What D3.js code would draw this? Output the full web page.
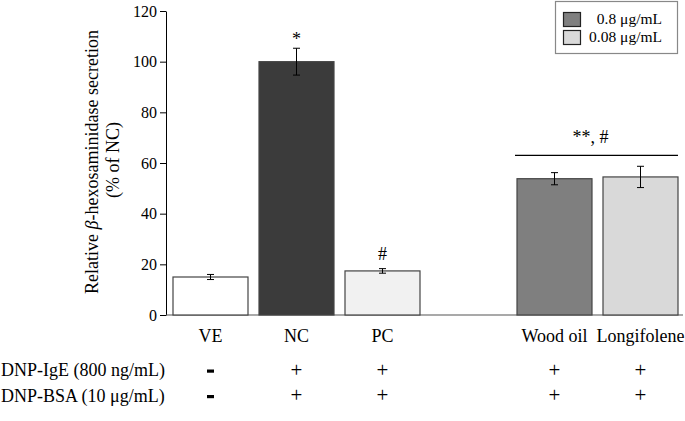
<!DOCTYPE html>
<html>
<head>
<meta charset="utf-8">
<script src="https://cdn.jsdelivr.net/npm/d3@7"></script>
<style>
  body { margin: 0; background: #fff; }
  text { font-family: "Liberation Serif", "Times New Roman", serif; fill: #000; }
</style>
</head>
<body>
<div id="chart"></div>
<script>
// slots on the x axis, "gap" is the empty space before the test samples
const slots = ["VE", "NC", "PC", "gap", "Wood oil", "Longifolene"];
const groups = ["VE", "NC", "PC", "Wood oil", "Longifolene"];
const values = [15, 100, 17.4, 53.8, 54.5];
const errors = [1.0, 5.3, 0.9, 2.4, 4.2];
const marks = ["", "*", "#", "", ""];
const dnpIgE = ["-", "+", "+", "+", "+"];
const dnpBSA = ["-", "+", "+", "+", "+"];
const yTicks = [0, 20, 40, 60, 80, 100, 120];
const legendLabels = ["0.8 \u03bcg/mL", "0.08 \u03bcg/mL"];
const fills = ["#ffffff", "#3b3b3b", "#f1f1f1", "#7f7f7f", "#d9d9d9"];
const groupMark = { label: "**, #", from: "Wood oil", to: "Longifolene", level: 63 };

const width = 685, height = 421;

let svg = d3.select("#chart").append("svg")
  .attr("width", width)
  .attr("height", height);

let x = d3.scaleBand()
  .domain(slots)
  .range([167.5, 683.5])
  .paddingInner(0.128)
  .paddingOuter(0.064);

let y = d3.scaleLinear()
  .domain([0, 120])
  .range([315, 11]);

//y axis
let yAxis = svg.append("g")
  .attr("transform", "translate(166,0)")
  .call(d3.axisLeft(y).tickValues(yTicks).tickSize(6).tickPadding(3).tickSizeOuter(0));
yAxis.selectAll("text").style("font-size", "16px").style("font-family", "Liberation Serif");
yAxis.selectAll("line, path").attr("stroke", "#000");

//x axis line
svg.append("line")
  .attr("x1", 166).attr("x2", 683)
  .attr("y1", y(0)).attr("y2", y(0))
  .attr("stroke", "#555").attr("stroke-width", 1.2);

//bars
svg.append("g")
  .selectAll("rect")
  .data(groups)
  .enter().append("rect")
  .attr("x", d => x(d))
  .attr("y", (d, i) => y(values[i]))
  .attr("width", x.bandwidth())
  .attr("height", (d, i) => y(0) - y(values[i]))
  .attr("fill", (d, i) => fills[i])
  .attr("stroke", "#444")
  .attr("stroke-width", 1.2);

//error bars
let eb = svg.append("g").attr("stroke", "#000").attr("stroke-width", 1);
groups.forEach((g, i) => {
  let cx = x(g) + x.bandwidth() / 2;
  let top = y(values[i] + errors[i]), bot = y(values[i] - errors[i]);
  eb.append("line").attr("x1", cx).attr("x2", cx).attr("y1", top).attr("y2", bot);
  eb.append("line").attr("x1", cx - 3.5).attr("x2", cx + 3.5).attr("y1", top).attr("y2", top);
  eb.append("line").attr("x1", cx - 3.5).attr("x2", cx + 3.5).attr("y1", bot).attr("y2", bot);
});

//significance marks above single bars
svg.append("g")
  .selectAll("text")
  .data(groups)
  .enter().append("text")
  .attr("x", d => x(d) + x.bandwidth() / 2)
  .attr("y", (d, i) => y(values[i] + errors[i]) - (marks[i] === "*" ? 3 : 9))
  .attr("text-anchor", "middle")
  .style("font-size", "18px")
  .text((d, i) => marks[i]);

//group significance line
let gx1 = x(groupMark.from) - 2, gx2 = x(groupMark.to) + x.bandwidth();
svg.append("line")
  .attr("x1", gx1).attr("x2", gx2)
  .attr("y1", y(groupMark.level)).attr("y2", y(groupMark.level))
  .attr("stroke", "#000").attr("stroke-width", 1.3);
svg.append("text")
  .attr("x", (gx1 + gx2) / 2 - 6)
  .attr("y", y(groupMark.level) - 12)
  .attr("text-anchor", "middle")
  .style("font-size", "18px")
  .text(groupMark.label);

//category labels
svg.append("g")
  .selectAll("text")
  .data(groups)
  .enter().append("text")
  .attr("x", d => x(d) + x.bandwidth() / 2)
  .attr("y", 342)
  .attr("text-anchor", "middle")
  .style("font-size", "18px")
  .text(d => d);

//treatment rows
let rows = [
  { label: "DNP-IgE (800 ng/mL)", signs: dnpIgE, y: 376 },
  { label: "DNP-BSA (10 \u03bcg/mL)", signs: dnpBSA, y: 401.5 }
];
rows.forEach(r => {
  svg.append("text")
    .attr("x", 1).attr("y", r.y)
    .style("font-size", "18px")
    .text(r.label);
  groups.forEach((g, i) => {
    let cx = x(g) + x.bandwidth() / 2;
    if (r.signs[i] === "-") {
      svg.append("rect")
        .attr("x", cx - 3.5).attr("y", r.y - 6.5)
        .attr("width", 7).attr("height", 3.2)
        .attr("fill", "#000");
    } else {
      svg.append("text")
        .attr("x", cx).attr("y", r.y + 0.5)
        .attr("text-anchor", "middle")
        .style("font-size", "21px")
        .text(r.signs[i]);
    }
  });
});

//y axis title
let title = svg.append("text")
  .attr("transform", "translate(98,162) rotate(-90)")
  .attr("text-anchor", "middle")
  .style("font-size", "18px");
title.append("tspan").text("Relative ");
title.append("tspan").style("font-style", "italic").text("\u03b2");
title.append("tspan").text("-hexosaminidase secretion");
svg.append("text")
  .attr("transform", "translate(119,160) rotate(-90)")
  .attr("text-anchor", "middle")
  .style("font-size", "18px")
  .text("(% of NC)");

//legend
let legend = svg.append("g");
legend.append("rect")
  .attr("x", 555.5).attr("y", 1.5)
  .attr("width", 122).attr("height", 52)
  .attr("fill", "#fff").attr("stroke", "#888").attr("stroke-width", 1.2);
legendLabels.forEach((l, i) => {
  legend.append("rect")
    .attr("x", 563.5).attr("y", 12.5 + i * 18)
    .attr("width", 17).attr("height", 14)
    .attr("fill", fills[3 + i]).attr("stroke", "#222").attr("stroke-width", 1.2);
  legend.append("text")
    .attr("x", 662).attr("y", 24 + i * 18)
    .attr("text-anchor", "end")
    .style("font-size", "15.5px")
    .text(l);
});
</script>
</body>
</html>
